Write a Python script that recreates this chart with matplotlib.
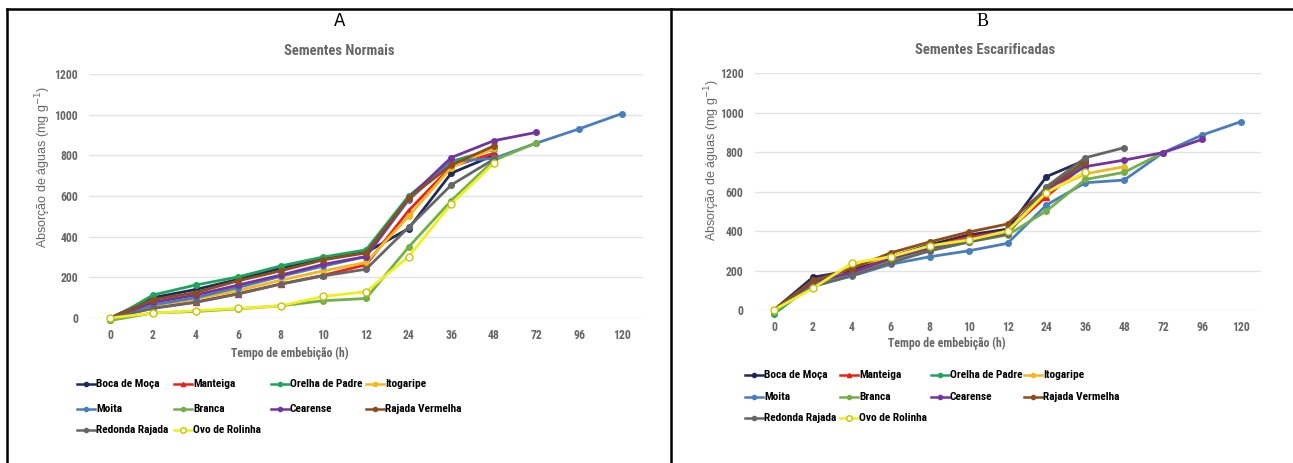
import numpy as np
import matplotlib
matplotlib.use('Agg')
import matplotlib.pyplot as plt
from matplotlib import font_manager as fm
from matplotlib.lines import Line2D

nan = np.nan

HOURS = ['0', '2', '4', '6', '8', '10', '12', '24', '36', '48', '72', '96', '120']

CULTIVARS = ['Boca de Moça', 'Manteiga', 'Orelha de Padre', 'Itogaripe', 'Moita',
             'Branca', 'Cearense', 'Rajada Vermelha', 'Redonda Rajada', 'Ovo de Rolinha']

# Sementes normais (panel A), mg g-1
boca_a = [0, 100, 140, 190, 245, 295, 322, 440, 712, 800]
manteiga_a = [0, 50, 78, 120, 167, 210, 262, 528, 745, 810]
orelha_a = [-10, 113, 162, 202, 256, 300, 335, 600, 770, 830]
itogaripe_a = [0, 60, 93, 135, 186, 232, 273, 500, 740, 835]
moita_a = [0, 64, 100, 150, 205, 255, 302, 580, 770, 785, 860, 930, 1005]
branca_a = [-12, 25, 32, 45, 60, 85, 96, 349, 577, 775, 862]
cearense_a = [0, 77, 113, 162, 211, 264, 302, 590, 789, 872, 913]
rajada_a = [0, 90, 125, 183, 232, 286, 320, 590, 752, 846]
redonda_a = [0, 47, 77, 118, 167, 207, 240, 446, 654, 781]
ovo_a = [0, 24, 36, 47, 60, 106, 129, 302, 561, 761]

# Sementes escarificadas (panel B), mg g-1
boca_b = [0, 166, 200, 270, 330, 380, 410, 676, 760]
manteiga_b = [0, 140, 190, 265, 320, 370, 400, 575, 740]
orelha_b = [-20, 130, 180, 250, 310, 360, 395, 610, 745]
itogaripe_b = [0, 120, 220, 270, 320, 360, 390, 600, 690, 727]
moita_b = [0, 120, 172, 232, 270, 300, 338, 532, 645, 659, 798, 887, 955]
branca_b = [-10, 130, 185, 250, 300, 345, 380, 502, 662, 698, 798]
cearense_b = [0, 140, 190, 260, 315, 360, 400, 610, 727, 760, 798, 865]
rajada_b = [0, 150, 210, 290, 345, 395, 436, 617, 752]
redonda_b = [0, 120, 175, 240, 300, 345, 385, 625, 772, 823]
ovo_b = [0, 110, 237, 270, 325, 355, 400, 595, 700]

COLORS = ['#1f2a5c', '#e8221b', '#1fa45e', '#f2b91e', '#4a7ebb',
          '#74b04a', '#7434a0', '#8e4d1c', '#666666', '#f0f020']
MARKERS = ['o', '^', 'o', 'o', 'o', 'o', 'o', 'o', 'o', 'o']

W, H = 1293, 463
GREY = '#666666'


def pick_narrow_font():
    # the chart uses a condensed sans; take one if the machine has it
    for fam in ['Liberation Sans Narrow', 'Arial Narrow', 'Roboto Condensed']:
        try:
            fm.findfont(fm.FontProperties(family=fam), fallback_to_default=False)
            return {'family': fam}
        except ValueError:
            pass
    path = fm.findfont(fm.FontProperties(family='DejaVu Sans', stretch='condensed',
                                         weight='bold'))
    if 'Condensed' in path:
        return {'family': 'DejaVu Sans', 'stretch': 'condensed'}
    return {'family': 'Liberation Sans'}


NARROW = pick_narrow_font()


def pad(values):
    out = np.full(len(HOURS), nan)
    out[:len(values)] = values
    return out


def px_rect(left, right, top, bottom):
    return [left / W, 1 - bottom / H, (right - left) / W, (bottom - top) / H]


def fx(px):
    return px / W


def fy(py):
    return 1 - py / H


def draw_panel(fig, rect, series, title, title_xy, ylab_xy, xlab_xy, leg_cols, leg_rows):
    ax = fig.add_axes(rect)
    x = np.arange(len(HOURS))
    styles = []
    for i, name in enumerate(CULTIVARS):
        y = pad(series[i])
        face = 'white' if name == 'Ovo de Rolinha' else COLORS[i]
        edge = '#c8c400' if name == 'Ovo de Rolinha' else COLORS[i]
        ms = 5 if name == 'Ovo de Rolinha' else 4
        ax.plot(x, y, color=COLORS[i], lw=2, marker=MARKERS[i], ms=ms,
                mfc=face, mec=edge, clip_on=False, zorder=3)
        styles.append(dict(color=COLORS[i], marker=MARKERS[i], ms=ms - 1,
                           mfc=face, mec=edge))

    ax.set_xlim(-0.5, len(HOURS) - 0.5)
    ax.set_ylim(0, 1200)
    ax.set_yticks(np.arange(0, 1201, 200))
    ax.set_xticks(x)
    ax.set_xticklabels(HOURS)
    for s in ax.spines.values():
        s.set_visible(False)
    ax.grid(axis='y', color='#e3e3e3', lw=1)
    ax.set_axisbelow(True)
    ax.tick_params(length=0, labelcolor=GREY, pad=8)
    for lab in ax.get_xticklabels() + ax.get_yticklabels():
        lab.set_fontproperties(fm.FontProperties(weight='bold', size=8.5, **NARROW))

    fig.text(fx(title_xy[0]), fy(title_xy[1]), title, ha='center', va='center',
             fontsize=10.5, fontweight='bold', color=GREY, **NARROW)
    fig.text(fx(ylab_xy[0]), fy(ylab_xy[1]), 'Absorção de águas (mg g$^{-1}$)',
             rotation=90, ha='center', va='center', fontsize=9, color=GREY,
             family=['Liberation Sans', 'DejaVu Sans'])
    fig.text(fx(xlab_xy[0]), fy(xlab_xy[1]), 'Tempo de embebição (h)',
             ha='center', va='center', fontsize=8.5, color=GREY, fontweight='bold',
             **NARROW)

    # legend laid out by hand: 4 fixed columns, filled row by row
    for i, name in enumerate(CULTIVARS):
        col, row = i % 4, i // 4
        x0 = leg_cols[col]
        y0 = fy(leg_rows[row])
        fig.add_artist(Line2D([fx(x0), fx(x0 + 18)], [y0, y0],
                              transform=fig.transFigure, color=styles[i]['color'],
                              lw=1.8))
        fig.add_artist(Line2D([fx(x0 + 9)], [y0], transform=fig.transFigure,
                              ls='none', marker=styles[i]['marker'], ms=styles[i]['ms'],
                              mfc=styles[i]['mfc'], mec=styles[i]['mec']))
        fig.text(fx(x0 + 19), y0, name, ha='left', va='center', fontsize=8.2,
                 fontweight='bold', color='black', **NARROW)
    return ax


def main():
    fig = plt.figure(figsize=(W / 100, H / 100), dpi=100)

    series_a = [boca_a, manteiga_a, orelha_a, itogaripe_a, moita_a,
                branca_a, cearense_a, rajada_a, redonda_a, ovo_a]
    series_b = [boca_b, manteiga_b, orelha_b, itogaripe_b, moita_b,
                branca_b, cearense_b, rajada_b, redonda_b, ovo_b]

    draw_panel(fig, px_rect(89, 643, 74, 318), series_a, 'Sementes Normais',
               (339, 51), (43, 167), (290, 353),
               [77, 174, 271, 366], [384, 409, 430])
    draw_panel(fig, px_rect(754.5, 1260.5, 73.3, 310), series_b, 'Sementes Escarificadas',
               (985, 50), (712, 160), (947, 343),
               [745, 840, 931, 1024], [375, 397, 418])

    # panel letters and the table borders around the two figures
    fig.text(fx(340), fy(21), 'A', ha='center', va='center', fontsize=12,
             family=['DejaVu Sans'])
    fig.text(fx(983), fy(21), 'B', ha='center', va='center', fontsize=13,
             family=['Liberation Serif', 'DejaVu Serif'])
    border = dict(color='black', lw=1.8, transform=fig.transFigure)
    fig.add_artist(Line2D([fx(7), 1], [fy(8.5)] * 2, **border))
    fig.add_artist(Line2D([fx(7)] * 2, [0, fy(8.5)], **border))
    fig.add_artist(Line2D([fx(671)] * 2, [0, fy(8.5)], **border))

    fig.savefig('out.png', dpi=100, facecolor='white')


if __name__ == '__main__':
    main()
